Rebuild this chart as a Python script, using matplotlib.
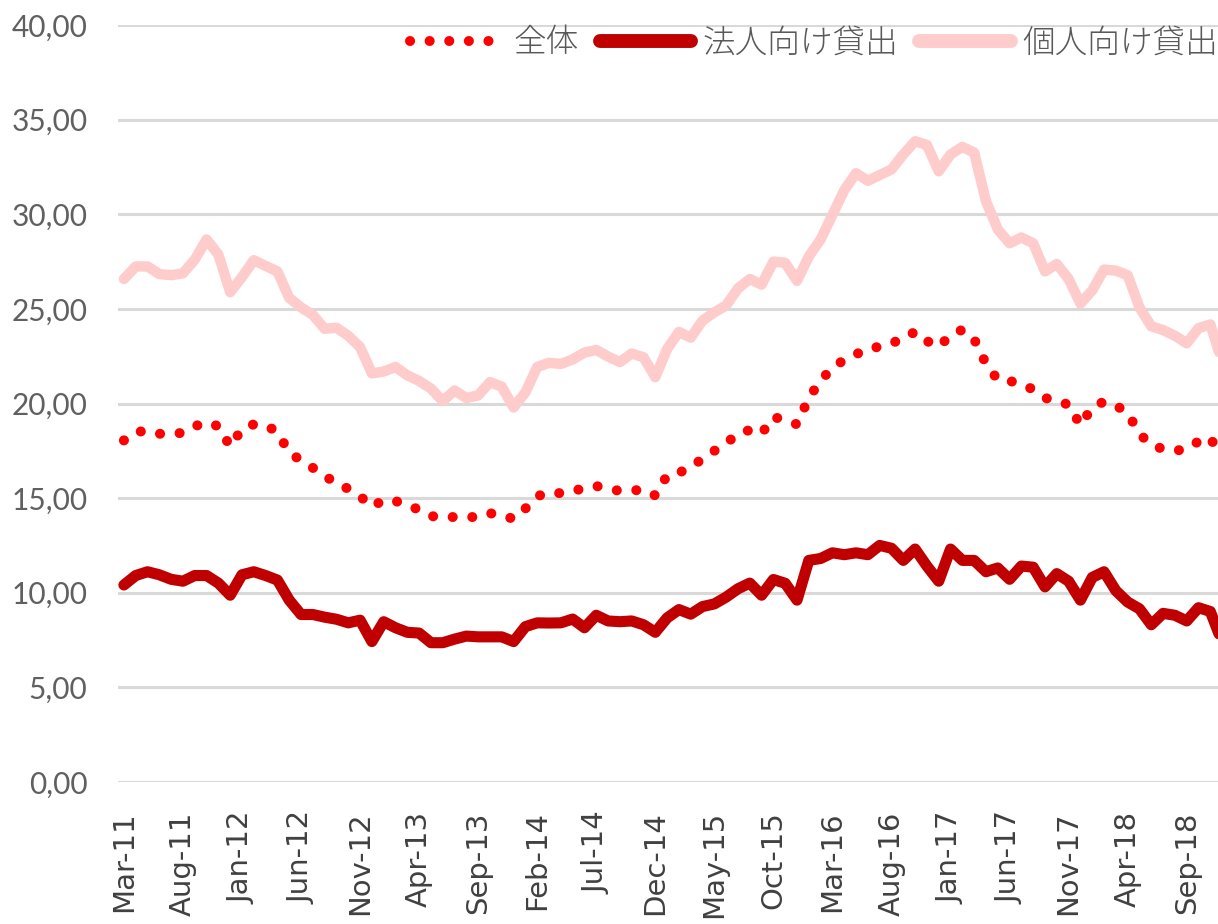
import matplotlib
matplotlib.use("Agg")
import matplotlib.pyplot as plt
from matplotlib.ticker import FuncFormatter, FixedLocator
from matplotlib.lines import Line2D

# ---------------- data ----------------
months = ["Mar-11","Apr-11","May-11","Jun-11","Jul-11","Aug-11","Sep-11","Oct-11","Nov-11","Dec-11",
          "Jan-12","Feb-12","Mar-12","Apr-12","May-12","Jun-12","Jul-12","Aug-12","Sep-12","Oct-12",
          "Nov-12","Dec-12","Jan-13","Feb-13","Mar-13","Apr-13","May-13","Jun-13","Jul-13","Aug-13",
          "Sep-13","Oct-13","Nov-13","Dec-13","Jan-14","Feb-14","Mar-14","Apr-14","May-14","Jun-14",
          "Jul-14","Aug-14","Sep-14","Oct-14","Nov-14","Dec-14","Jan-15","Feb-15","Mar-15","Apr-15",
          "May-15","Jun-15","Jul-15","Aug-15","Sep-15","Oct-15","Nov-15","Dec-15","Jan-16","Feb-16",
          "Mar-16","Apr-16","May-16","Jun-16","Jul-16","Aug-16","Sep-16","Oct-16","Nov-16","Dec-16",
          "Jan-17","Feb-17","Mar-17","Apr-17","May-17","Jun-17","Jul-17","Aug-17","Sep-17","Oct-17",
          "Nov-17","Dec-17","Jan-18","Feb-18","Mar-18","Apr-18","May-18","Jun-18","Jul-18","Aug-18",
          "Sep-18","Oct-18","Nov-18","Dec-18"]

total = [18.05, 18.5, 18.55, 18.4, 18.4, 18.45, 18.8, 19.0, 18.8, 17.73,
         18.65, 18.9, 18.85, 18.5, 17.4, 17.0, 16.6, 16.2, 15.75, 15.5,
         15.1, 14.55, 14.9, 14.85, 14.6, 14.4, 14.05, 14.0, 14.0, 14.0,
         14.0, 14.2, 14.1, 13.9, 14.45, 15.1, 15.3, 15.26, 15.4, 15.5,
         15.64, 15.5, 15.38, 15.4, 15.45, 15.14, 16.2, 16.35, 16.6, 17.1,
         17.5, 17.9, 18.4, 18.6, 18.4, 19.3, 19.1, 18.9, 20.3, 21.2,
         21.9, 22.3, 22.6, 22.9, 23.0, 23.2, 23.4, 23.8, 23.3, 23.0,
         23.6, 23.9, 23.4, 22.1, 21.25, 21.2, 21.0, 20.75, 20.3, 20.1,
         19.95, 18.85, 19.8, 20.1, 19.9, 19.5, 18.4, 17.8, 17.6, 17.5,
         17.6, 18.0, 18.2, 17.0]

corporate = [10.41, 10.91, 11.11, 10.95, 10.71, 10.61, 10.91, 10.91, 10.51, 9.87,
             10.95, 11.11, 10.91, 10.67, 9.61, 8.85, 8.85, 8.71, 8.6, 8.41,
             8.55, 7.42, 8.47, 8.15, 7.91, 7.87, 7.36, 7.36, 7.55, 7.71,
             7.67, 7.67, 7.67, 7.42, 8.21, 8.41, 8.4, 8.41, 8.61, 8.15,
             8.81, 8.51, 8.47, 8.51, 8.31, 7.91, 8.67, 9.11, 8.87, 9.27,
             9.41, 9.77, 10.21, 10.51, 9.87, 10.7, 10.5, 9.61, 11.71, 11.81,
             12.11, 12.01, 12.11, 12.01, 12.5, 12.35, 11.71, 12.31, 11.41, 10.61,
             12.31, 11.71, 11.71, 11.11, 11.31, 10.71, 11.41, 11.35, 10.31, 11.01,
             10.61, 9.61, 10.81, 11.11, 10.11, 9.51, 9.15, 8.31, 8.91, 8.81,
             8.51, 9.21, 9.01, 7.4]

personal = [26.58, 27.24, 27.24, 26.84, 26.78, 26.88, 27.6, 28.67, 27.87, 25.88,
            26.68, 27.57, 27.27, 26.98, 25.58, 25.08, 24.68, 23.95, 24.0, 23.58,
            22.98, 21.59, 21.69, 21.93, 21.49, 21.19, 20.79, 20.13, 20.69, 20.29,
            20.43, 21.13, 20.89, 19.79, 20.59, 21.93, 22.15, 22.09, 22.33, 22.69,
            22.83, 22.48, 22.19, 22.64, 22.44, 21.39, 22.88, 23.78, 23.48, 24.38,
            24.82, 25.18, 26.08, 26.58, 26.28, 27.5, 27.43, 26.48, 27.77, 28.67,
            29.97, 31.27, 32.17, 31.77, 32.07, 32.37, 33.16, 33.86, 33.66, 32.27,
            33.16, 33.56, 33.26, 30.7, 29.2, 28.47, 28.77, 28.47, 26.98, 27.37,
            26.58, 25.28, 25.98, 27.08, 27.02, 26.78, 25.08, 24.08, 23.88, 23.58,
            23.18, 23.98, 24.18, 22.2]

series_names = ["全体", "法人向け貸出", "個人向け貸出"]
yticks = [0, 5, 10, 15, 20, 25, 30, 35, 40]
tick_step = 5

# ---------------- fonts ----------------
cjk_font = ["Noto Sans CJK JP", "DejaVu Sans"]

# ---------------- figure ----------------
W, H = 1218, 924
fig = plt.figure(figsize=(W / 100, H / 100), dpi=100)
ax = fig.add_axes([118 / W, 1 - 782 / H, 1 - 118 / W, (782 - 25) / H])

x = list(range(len(months)))
dot_style = (0, (0.01, 1.95))

ax.plot(x, personal, color="#FFCCCC", lw=7.5, solid_joinstyle="round",
        solid_capstyle="round", zorder=3)
ax.plot(x, corporate, color="#C00000", lw=8, solid_joinstyle="round",
        solid_capstyle="round", zorder=4)
ax.plot(x, total, color="#FF0000", lw=7.2, linestyle=dot_style,
        dash_capstyle="round", zorder=5)

ax.set_ylim(0, 40)
ax.set_xlim(-0.5, 92.65)
ax.yaxis.set_major_locator(FixedLocator(yticks))
ax.yaxis.set_major_formatter(FuncFormatter(lambda v, p: f"{v:.2f}".replace(".", ",")))
ax.grid(axis="y", color="#D9D9D9", lw=2.2, zorder=0)
ax.set_axisbelow(True)
for s in ax.spines.values():
    s.set_visible(False)

ax.set_xticks(x[::tick_step])
ax.set_xticklabels(months[::tick_step], rotation=90, fontsize=21,
                   color="#404040", family="DejaVu Sans")
ax.tick_params(axis="x", length=0, pad=21)
ax.tick_params(axis="y", length=0, pad=22, labelsize=21.5, labelcolor="#606060")
for lab in ax.get_yticklabels():
    lab.set_family("Lato")
    lab.set_fontweight("normal")

handles = [
    Line2D([], [], color="#FF0000", lw=7.2, linestyle=dot_style, dash_capstyle="round"),
    Line2D([], [], color="#C00000", lw=10, solid_capstyle="round"),
    Line2D([], [], color="#FFCCCC", lw=10, solid_capstyle="round"),
]
leg = fig.legend(handles, series_names, loc="upper right", bbox_to_anchor=(1.0, 1.0 - 26 / H),
                 ncol=3, frameon=False, prop={"family": cjk_font, "size": 23.5, "weight": "light"},
                 handlelength=2.8, handletextpad=0.35, columnspacing=0.65,
                 borderaxespad=0, borderpad=0)
for t in leg.get_texts():
    t.set_color("#595959")

fig.savefig("out.png", dpi=100)
